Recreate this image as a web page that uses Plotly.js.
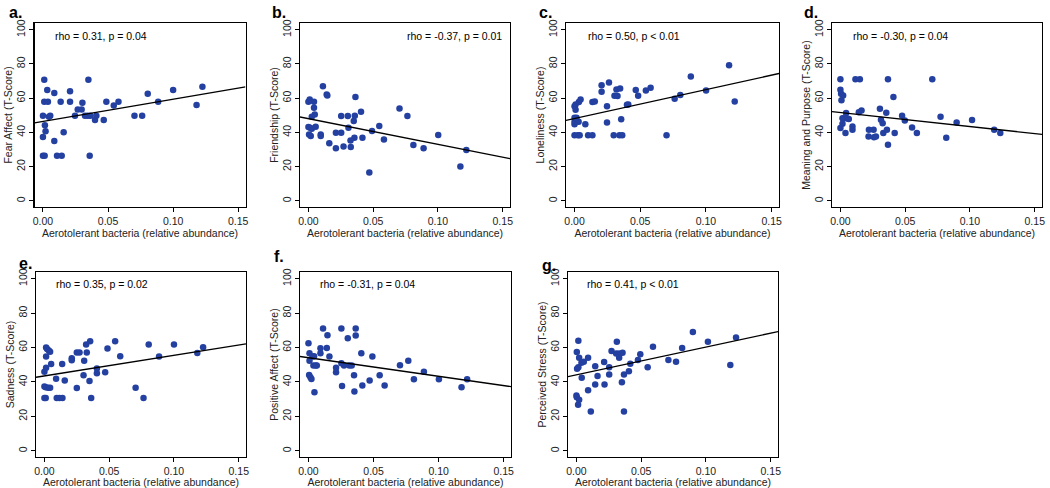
<!DOCTYPE html>
<html>
<head>
<meta charset="utf-8">
<script src="https://cdn.plot.ly/plotly-3.0.1.min.js"></script>
<style>html,body{margin:0;padding:0;background:#fff;}#chart{width:1050px;height:488px;}</style>
</head>
<body>
<div id="chart"></div>
<script>
// ---------- DATA ----------
const panelLetters = ['a.', 'b.', 'c.', 'd.', 'e.', 'f.', 'g.'];
const yTitles = ['Fear Affect (T-Score)', 'Friendship (T-Score)', 'Loneliness (T-Score)',
  'Meaning and Purpose (T-Score)', 'Sadness (T-Score)', 'Positive Affect (T-Score)', 'Perceived Stress (T-Score)'];
const xTitle = 'Aerotolerant bacteria (relative abundance)';
const statLabels = ['rho = 0.31, p = 0.04', 'rho = -0.37, p = 0.01', 'rho = 0.50, p < 0.01',
  'rho = -0.30, p = 0.04', 'rho = 0.35, p = 0.02', 'rho = -0.31, p = 0.04', 'rho = 0.41, p < 0.01'];
const xTickVals = [0, 0.05, 0.10, 0.15];
const xTickText = ['0.00', '0.05', '0.10', '0.15'];
const yTickVals = [0, 20, 40, 60, 80, 100];
const yTickText = ['0', '20', '40', '60', '80', '100'];

// fitted lines: value at x = 0 and slope
const lineIntercepts = [46.4, 48.0, 48.1, 51.6, 43.5, 54.1, 44.1];
const lineSlopes = [129.5, -150, 169, -82, 119.7, -108, 162];

// a. Fear Affect
const xA = [0.000, 0.000, 0.0013, 0.000, 0.001, 0.001, 0.0015, 0.002, 0.0033, 0.0038, 0.0046, 0.0056,
  0.0087, 0.0087, 0.0108, 0.0144, 0.0136, 0.0159, 0.0208, 0.0208, 0.0246, 0.0267, 0.0297, 0.0303,
  0.0323, 0.0344, 0.0364, 0.0349, 0.0359, 0.0400, 0.0410, 0.0467, 0.0487, 0.0544, 0.0580, 0.0703,
  0.0762, 0.0805, 0.0885, 0.1000, 0.1225, 0.1180];
const yA = [37.3, 26.4, 26.4, 49.7, 70.7, 57.9, 44.1, 40.6, 64.7, 57.9, 49.1, 49.7,
  63.0, 35.0, 26.4, 26.4, 57.9, 40.0, 64.0, 57.9, 49.7, 53.4, 53.4, 57.3,
  49.7, 49.7, 49.7, 70.7, 26.4, 47.2, 49.7, 47.2, 57.9, 55.7, 57.9, 49.7,
  49.7, 62.5, 57.9, 64.7, 66.6, 56.0];

// b. Friendship
const xB = [0.000, 0.0010, 0.0043, 0.0043, 0.0049, 0.0026, 0.000, 0.0013, 0.0026, 0.0056, 0.0005, 0.0018,
  0.0095, 0.0095, 0.0112, 0.0141, 0.0146, 0.0161, 0.0212, 0.0212, 0.0253, 0.0253, 0.0271, 0.0304,
  0.0309, 0.0325, 0.0327, 0.0350, 0.0358, 0.0355, 0.0363, 0.0406, 0.0417, 0.0470, 0.0491, 0.0547,
  0.0583, 0.0703, 0.0764, 0.0810, 0.0889, 0.1002, 0.1173, 0.1219];
const yB = [57.9, 59.2, 57.9, 54.4, 50.5, 49.1, 43.1, 42.7, 42.1, 43.3, 38.8, 37.9,
  38.8, 37.9, 67.0, 62.1, 61.6, 33.6, 39.8, 30.7, 39.8, 49.5, 31.7, 49.5,
  42.7, 35.3, 31.5, 46.6, 49.7, 36.9, 60.6, 52.0, 36.9, 16.5, 40.8, 43.7,
  35.9, 54.0, 49.5, 32.6, 30.7, 38.4, 20.0, 29.7];

// c. Loneliness
const xC = [0.000, 0.000, 0.000, 0.0008, 0.0008, 0.000, 0.0015, 0.000, 0.0026, 0.0039, 0.0031, 0.0033,
  0.0046, 0.0082, 0.0103, 0.0136, 0.0136, 0.0154, 0.0206, 0.0206, 0.0247, 0.0247, 0.0262, 0.0298,
  0.0304, 0.0327, 0.0319, 0.0347, 0.0355, 0.0342, 0.0363, 0.0399, 0.0409, 0.0466, 0.0484, 0.0543,
  0.0579, 0.0700, 0.0762, 0.0805, 0.0885, 0.1001, 0.1176, 0.1219];
const yC = [44.7, 46.2, 55.3, 56.3, 53.2, 48.5, 48.5, 38.3, 38.3, 38.3, 46.2, 57.7,
  59.2, 44.7, 38.3, 38.3, 57.7, 58.1, 67.6, 63.7, 55.3, 45.8, 69.1, 38.3,
  61.4, 61.2, 65.0, 65.6, 47.6, 38.3, 38.3, 56.1, 56.3, 64.7, 61.4, 64.5,
  66.0, 38.3, 59.6, 61.9, 72.6, 64.5, 79.2, 58.1];

// d. Meaning and Purpose
const xD = [0.000, 0.000, 0.0005, 0.0008, 0.0021, 0.0016, 0.000, 0.0016, 0.0026, 0.0052, 0.0044, 0.0065,
  0.0039, 0.0093, 0.0093, 0.0116, 0.0150, 0.0142, 0.0163, 0.0220, 0.0217, 0.0256, 0.0259, 0.0274,
  0.0305, 0.0313, 0.0326, 0.0331, 0.0354, 0.0359, 0.0367, 0.0367, 0.0409, 0.0419, 0.0476, 0.0497,
  0.0553, 0.0590, 0.0709, 0.0773, 0.0817, 0.0897, 0.1016, 0.1187, 0.1234];
const yD = [71.0, 64.9, 62.6, 58.7, 61.6, 48.3, 42.5, 45.0, 48.3, 48.1, 51.3, 47.8,
  39.6, 43.5, 41.5, 71.0, 71.0, 51.7, 52.8, 41.5, 37.6, 41.5, 37.2, 37.6,
  53.8, 47.4, 45.4, 39.6, 51.5, 41.5, 71.0, 32.7, 60.6, 39.6, 49.7, 47.0,
  42.9, 39.6, 71.0, 49.1, 36.8, 45.8, 47.2, 41.5, 39.6];

// e. Sadness
const xE = [0.000, 0.001, 0.000, 0.001, 0.0013, 0.0021, 0.0013, 0.0013, 0.000, 0.0034, 0.0044, 0.0028,
  0.0044, 0.0052, 0.0090, 0.0095, 0.0116, 0.0137, 0.0139, 0.0157, 0.0211, 0.0211, 0.0250, 0.0250,
  0.0271, 0.0302, 0.0307, 0.0322, 0.0327, 0.0348, 0.0353, 0.0361, 0.0405, 0.0405, 0.0469, 0.0487,
  0.0546, 0.0585, 0.0704, 0.0765, 0.0805, 0.0885, 0.1000, 0.1180, 0.1225];
const yE = [30.7, 30.7, 37.3, 36.9, 60.0, 59.2, 54.8, 48.2, 46.0, 58.3, 57.5, 36.7,
  36.7, 50.5, 41.9, 30.7, 30.7, 50.5, 30.7, 40.8, 53.8, 52.6, 36.5, 57.1,
  57.1, 43.9, 52.4, 61.7, 57.1, 40.6, 63.7, 30.7, 45.0, 47.8, 45.6, 59.4,
  63.7, 55.0, 36.7, 30.7, 61.7, 54.8, 61.7, 56.9, 60.2];

// f. Positive Affect
const xF = [0.000, 0.0008, 0.0008, 0.0005, 0.0015, 0.0023, 0.0031, 0.0043, 0.0038, 0.0056, 0.0064, 0.0046,
  0.0092, 0.0092, 0.0112, 0.0141, 0.0146, 0.0161, 0.0212, 0.0212, 0.0253, 0.0253, 0.0258, 0.0273,
  0.0302, 0.0314, 0.0332, 0.0350, 0.0353, 0.0363, 0.0363, 0.0406, 0.0414, 0.0470, 0.0491, 0.0547,
  0.0585, 0.0703, 0.0767, 0.0810, 0.0887, 0.1002, 0.1176, 0.1219];
const yF = [62.5, 56.7, 52.4, 44.1, 42.7, 41.7, 54.8, 55.0, 49.5, 49.5, 49.5, 34.0,
  59.6, 56.7, 71.1, 59.8, 67.2, 54.8, 48.2, 45.6, 71.1, 50.9, 37.7, 49.5,
  65.4, 49.5, 49.5, 43.9, 34.4, 71.1, 67.0, 56.7, 37.9, 40.8, 54.8, 43.9,
  37.9, 49.7, 52.4, 41.6, 46.0, 41.6, 36.9, 41.6];

// g. Perceived Stress
const xG = [0.000, 0.0003, 0.0003, 0.0005, 0.0015, 0.0015, 0.0013, 0.0021, 0.0021, 0.0041, 0.0039, 0.0057,
  0.0090, 0.0090, 0.0111, 0.0145, 0.0145, 0.0163, 0.0214, 0.0217, 0.0253, 0.0253, 0.0271, 0.0307,
  0.0312, 0.0330, 0.0330, 0.0351, 0.0356, 0.0367, 0.0367, 0.0405, 0.0416, 0.0475, 0.0493, 0.0550,
  0.0591, 0.0710, 0.0769, 0.0816, 0.0899, 0.1015, 0.1188, 0.1232];
const yG = [32.2, 31.1, 57.4, 47.7, 48.6, 63.9, 26.8, 54.1, 29.7, 42.4, 51.2, 51.8,
  35.2, 54.1, 22.9, 49.2, 38.5, 43.4, 51.6, 38.5, 48.6, 44.3, 58.0, 56.6,
  63.3, 54.1, 56.6, 39.8, 57.0, 44.3, 22.9, 46.3, 50.6, 52.7, 56.1, 48.6,
  60.4, 52.7, 51.8, 59.8, 69.1, 63.3, 49.8, 65.8];

const xsAll = [xA, xB, xC, xD, xE, xF, xG];
const ysAll = [yA, yB, yC, yD, yE, yF, yG];

// ---------- LAYOUT GEOMETRY (pixels) ----------
const W = 1050, H = 488;
const frames = [ // [left, right, top, bottom]
  [34.5, 245.5, 23, 207], [300, 510, 23, 207], [566, 779, 23, 207], [832, 1042, 23, 207],
  [36, 246, 272, 457], [300, 511, 272, 457], [568, 778, 272, 457]
];
const statPos = [ // [x, y, anchor]
  [52.7, 35.7, 'left'], [504, 35.7, 'right'], [585.7, 35.7, 'left'], [850.7, 35.7, 'left'],
  [54, 284.3, 'left'], [318.3, 284.3, 'left'], [585, 284.3, 'left']
];
const letterPos = [[7, 12], [270, 12.3], [536.7, 12.3], [801.7, 12.3], [17.3, 263], [272.3, 256], [540, 265]];
const XR = [-0.0065, 0.1556];
const YR = [-3.6, 103.9];

const FONT = 'Liberation Sans, Arial, Helvetica, sans-serif';
const PT = '#2440a0';

const traces = [];
const layout = {
  width: W, height: H,
  margin: {l: 0, r: 0, t: 0, b: 0},
  paper_bgcolor: '#fff', plot_bgcolor: '#fff',
  showlegend: false,
  font: {family: FONT, size: 10.5, color: '#000'},
  annotations: []
};

for (let i = 0; i < 7; i++) {
  const n = i === 0 ? '' : String(i + 1);
  const xa = 'x' + n, ya = 'y' + n;
  const f = frames[i];
  traces.push({
    type: 'scatter', mode: 'markers', x: xsAll[i], y: ysAll[i], xaxis: xa, yaxis: ya,
    marker: {color: PT, size: 6.5, line: {width: 0}}, hoverinfo: 'x+y'
  });
  traces.push({
    type: 'scatter', mode: 'lines', xaxis: xa, yaxis: ya,
    x: [XR[0], XR[1]],
    y: [lineIntercepts[i] + lineSlopes[i] * XR[0], lineIntercepts[i] + lineSlopes[i] * XR[1]],
    line: {color: '#000', width: 1.3}, hoverinfo: 'skip'
  });
  const common = {
    showline: true, mirror: true, linecolor: '#000', linewidth: 1.2,
    ticks: 'outside', ticklen: 4, tickwidth: 1, tickcolor: '#000',
    showgrid: false, zeroline: false, fixedrange: true,
    tickfont: {family: FONT, size: 10.5, color: '#222'}
  };
  layout['xaxis' + n] = Object.assign({}, common, {
    domain: [f[0] / W, f[1] / W], anchor: ya, range: XR,
    tickvals: xTickVals, ticktext: xTickText,
    title: {text: xTitle, font: {family: FONT, size: 10.5, color: '#222'}, standoff: 0}
  });
  layout['yaxis' + n] = Object.assign({}, common, {
    domain: [1 - f[3] / H, 1 - f[2] / H], anchor: xa, range: YR,
    tickvals: yTickVals, ticktext: yTickText, tickangle: -90,
    title: {text: yTitles[i], font: {family: FONT, size: 10.5, color: '#222'}, standoff: 0}
  });
  const sp = statPos[i];
  layout.annotations.push({
    xref: 'paper', yref: 'paper', x: sp[0] / W, y: 1 - sp[1] / H,
    xanchor: sp[2], yanchor: 'middle', showarrow: false,
    text: statLabels[i], font: {family: FONT, size: 10.5, color: '#000'}
  });
  const lp = letterPos[i];
  layout.annotations.push({
    xref: 'paper', yref: 'paper', x: lp[0] / W, y: 1 - lp[1] / H,
    xanchor: 'left', yanchor: 'middle', showarrow: false,
    text: '<b>' + panelLetters[i] + '</b>', font: {family: FONT, size: 16, color: '#000'}
  });
}

Plotly.newPlot('chart', traces, layout, {displayModeBar: false, staticPlot: true});
</script>
</body>
</html>
